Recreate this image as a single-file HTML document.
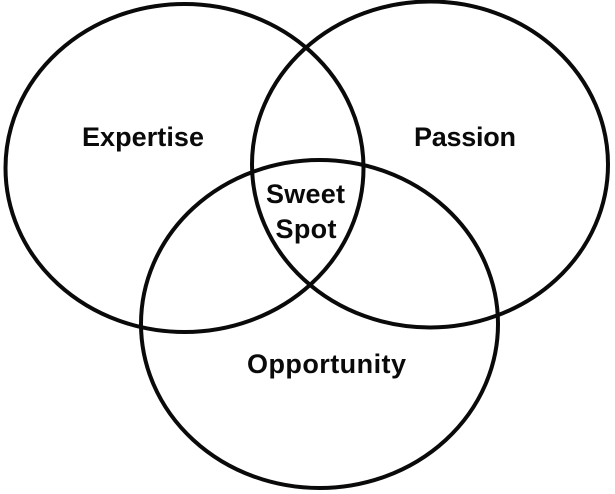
<!DOCTYPE html>
<html>
<head>
<meta charset="utf-8">
<style>
html,body{margin:0;padding:0;background:#fff;width:615px;height:494px;overflow:hidden}
svg{display:block}
text{font-family:"Liberation Sans",sans-serif;font-weight:700;fill:#0a0a0a;text-anchor:middle;font-size:27px}
</style>
</head>
<body>
<svg width="615" height="494" viewBox="0 0 615 494" xmlns="http://www.w3.org/2000/svg">
<rect width="615" height="494" fill="#fff"/>
<g fill="none" stroke="#0a0a0a" stroke-width="4">
<ellipse cx="184.500" cy="168" rx="179" ry="164"/>
<ellipse cx="430" cy="164.500" rx="178" ry="163"/>
<ellipse cx="319.500" cy="324" rx="178.500" ry="164"/>
</g>
<text x="143" y="146" textLength="122" lengthAdjust="spacing">Expertise</text>
<text x="465" y="146" textLength="102" lengthAdjust="spacing">Passion</text>
<text x="305.500" y="203" textLength="79" lengthAdjust="spacing">Sweet</text>
<text x="306" y="238" textLength="61" lengthAdjust="spacing">Spot</text>
<text x="326.500" y="373" textLength="159" lengthAdjust="spacing">Opportunity</text>
</svg>
</body>
</html>
